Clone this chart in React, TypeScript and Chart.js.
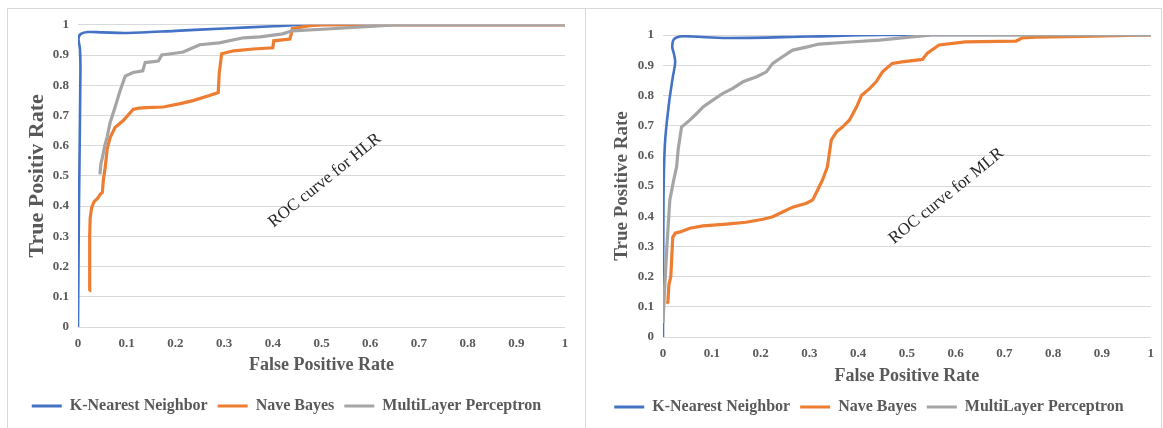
import React, { useEffect, useRef } from 'react';
import { Chart, registerables } from 'chart.js';

Chart.register(...registerables);

// ---------- data ----------
const axisTickLabels = ['0', '0.1', '0.2', '0.3', '0.4', '0.5', '0.6', '0.7', '0.8', '0.9', '1'];
const seriesNames = ['K-Nearest Neighbor', 'Nave Bayes', 'MultiLayer Perceptron'];
const seriesColors = ['#4472C4', '#ED7D31', '#A5A5A5'];
const xAxisTitle = 'False Positive Rate';
const yAxisTitles = ['True Positiv Rate', 'True Positive Rate'];
const noteTexts = ['ROC curve for HLR', 'ROC curve for MLR'];

// HLR (left chart)
const hlrKnnX = [0, 0.002, 0.005, 0.004, 0.001, 0.006, 0.02, 0.05, 0.1, 0.2, 0.3, 0.4, 0.48, 1];
const hlrKnnY = [0, 0.4, 0.85, 0.92, 0.955, 0.97, 0.976, 0.975, 0.973, 0.98, 0.988, 0.995, 1, 1];

const hlrNbX = [0.023, 0.024, 0.025, 0.028, 0.033, 0.04, 0.046, 0.05, 0.052, 0.056, 0.06, 0.066, 0.076, 0.093, 0.113, 0.125, 0.14, 0.175, 0.21, 0.236, 0.27, 0.288, 0.29, 0.295, 0.32, 0.36, 0.4, 0.402, 0.435, 0.438, 0.44, 0.476, 0.5, 1];
const hlrNbY = [0.12, 0.3, 0.36, 0.395, 0.415, 0.425, 0.44, 0.445, 0.485, 0.53, 0.59, 0.627, 0.66, 0.683, 0.72, 0.724, 0.726, 0.728, 0.739, 0.749, 0.766, 0.776, 0.84, 0.904, 0.914, 0.92, 0.924, 0.947, 0.953, 0.97, 0.987, 0.997, 1, 1];

const hlrMlpX = [0.045, 0.047, 0.05, 0.055, 0.06, 0.066, 0.076, 0.086, 0.097, 0.113, 0.133, 0.136, 0.138, 0.165, 0.172, 0.195, 0.216, 0.23, 0.25, 0.29, 0.34, 0.374, 0.42, 0.44, 0.52, 0.6, 0.647, 1];
const hlrMlpY = [0.505, 0.54, 0.56, 0.6, 0.63, 0.677, 0.726, 0.78, 0.83, 0.842, 0.848, 0.865, 0.875, 0.88, 0.9, 0.905, 0.91, 0.92, 0.934, 0.94, 0.957, 0.96, 0.97, 0.98, 0.987, 0.995, 1, 1];

// MLR (right chart)
const mlrKnnX = [0, 0.001, 0.004, 0.012, 0.02, 0.025, 0.022, 0.019, 0.022, 0.035, 0.06, 0.13, 0.3, 0.45, 1];
const mlrKnnY = [0, 0.45, 0.64, 0.77, 0.86, 0.91, 0.94, 0.96, 0.985, 0.995, 0.995, 0.99, 0.995, 1, 1];

const mlrNbX = [0.008, 0.01, 0.012, 0.016, 0.02, 0.025, 0.035, 0.055, 0.082, 0.13, 0.17, 0.205, 0.225, 0.245, 0.266, 0.294, 0.307, 0.317, 0.327, 0.337, 0.345, 0.356, 0.368, 0.382, 0.397, 0.407, 0.424, 0.437, 0.45, 0.47, 0.49, 0.532, 0.542, 0.566, 0.62, 0.724, 0.736, 0.764, 0.86, 1];
const mlrNbY = [0.11, 0.116, 0.172, 0.2, 0.33, 0.344, 0.348, 0.36, 0.368, 0.374, 0.38, 0.39, 0.398, 0.414, 0.43, 0.443, 0.454, 0.487, 0.52, 0.563, 0.652, 0.68, 0.695, 0.718, 0.762, 0.8, 0.823, 0.845, 0.878, 0.906, 0.911, 0.919, 0.94, 0.967, 0.977, 0.98, 0.99, 0.993, 0.995, 1];

const mlrMlpX = [0, 0.003, 0.008, 0.014, 0.018, 0.022, 0.028, 0.031, 0.038, 0.055, 0.069, 0.082, 0.103, 0.123, 0.143, 0.164, 0.192, 0.212, 0.225, 0.245, 0.266, 0.294, 0.32, 0.376, 0.444, 0.5, 0.552, 1];
const mlrMlpY = [0.046, 0.15, 0.3, 0.454, 0.487, 0.52, 0.564, 0.62, 0.695, 0.718, 0.74, 0.762, 0.785, 0.807, 0.823, 0.845, 0.862, 0.878, 0.906, 0.928, 0.95, 0.96, 0.97, 0.976, 0.983, 0.992, 1, 1];

// ---------- helpers ----------
const FONT = '"Liberation Serif", "Times New Roman", serif';
const TEXT = '#595959';
Chart.defaults.font.family = FONT;

const toPoints = (xs: number[], ys: number[]) => xs.map((x, i) => ({ x, y: ys[i] }));

type Layout = {
  left: number; top: number; width: number; height: number;
  padTop: number; padRight: number; padBottom: number;
  yWidth: number; xHeight: number;
  yTitleSize: number; yTitlePad: number; xTitlePad: number;
  noteX: number; noteY: number;
};

function RocChart(props: { series: { x: number[]; y: number[] }[]; yTitle: string; note: string; layout: Layout }) {
  const ref = useRef<HTMLCanvasElement | null>(null);
  const { series, yTitle, note, layout } = props;

  useEffect(() => {
    if (!ref.current) return;
    const notePlugin = {
      id: 'note',
      afterDatasetsDraw(chart: any) {
        const { ctx, scales } = chart;
        const px = scales.x.getPixelForValue(layout.noteX);
        const py = scales.y.getPixelForValue(layout.noteY);
        ctx.save();
        ctx.translate(px, py);
        ctx.rotate((-39 * Math.PI) / 180);
        ctx.font = `17px ${FONT}`;
        ctx.fillStyle = '#262626';
        ctx.textAlign = 'center';
        ctx.textBaseline = 'middle';
        ctx.fillText(note, 0, 0);
        ctx.restore();
      },
    };
    const chart = new Chart(ref.current, {
      type: 'line',
      data: {
        datasets: series.map((s, i) => ({
          label: seriesNames[i],
          data: toPoints(s.x, s.y),
          borderColor: seriesColors[i],
          backgroundColor: seriesColors[i],
          borderWidth: i === 0 ? 2.6 : 3.2,
          pointRadius: 0,
          fill: false,
          tension: i === 0 ? 0.35 : 0,
          order: 3 - i,
        })),
      },
      options: {
        animation: false,
        responsive: false,
        layout: { padding: { top: layout.padTop, right: layout.padRight, bottom: layout.padBottom, left: 0 } },
        plugins: {
          tooltip: { enabled: false },
          legend: {
            position: 'bottom',
            labels: {
              boxWidth: 30,
              boxHeight: 3,
              padding: 10,
              color: TEXT,
              font: { size: 16, weight: 'bold', family: FONT },
              sort: (a: any, b: any) => a.datasetIndex - b.datasetIndex,
              generateLabels: (c: any) =>
                Chart.defaults.plugins.legend.labels.generateLabels(c).map((l: any) => ({
                  ...l,
                  lineWidth: 0,
                  fillStyle: seriesColors[l.datasetIndex],
                })),
            },
          },
        },
        scales: {
          x: {
            type: 'linear',
            min: 0,
            max: 1,
            afterFit: (scale: any) => { scale.height = layout.xHeight; },
            grid: { display: false, drawTicks: false },
            border: { display: false },
            ticks: {
              stepSize: 0.1,
              padding: 9,
              color: TEXT,
              font: { size: 13, weight: 'bold', family: FONT },
              maxRotation: 0,
              callback: (_v: any, i: number) => axisTickLabels[i],
            },
            title: {
              display: true,
              text: xAxisTitle,
              color: TEXT,
              font: { size: 18, weight: 'bold', family: FONT },
              padding: { top: 0, bottom: layout.xTitlePad },
            },
          },
          y: {
            type: 'linear',
            min: 0,
            max: 1,
            afterFit: (scale: any) => { scale.width = layout.yWidth; },
            grid: { color: '#D9D9D9', lineWidth: 1, drawTicks: false },
            border: { display: false },
            ticks: {
              stepSize: 0.1,
              padding: 9,
              color: TEXT,
              font: { size: 13, weight: 'bold', family: FONT },
              callback: (_v: any, i: number) => axisTickLabels[i],
            },
            title: {
              display: true,
              text: yTitle,
              color: TEXT,
              font: { size: layout.yTitleSize, weight: 'bold', family: FONT },
              padding: { top: layout.yTitlePad, bottom: 0 },
            },
          },
        },
      },
      plugins: [notePlugin],
    } as any);
    return () => chart.destroy();
  }, []);

  return (
    <canvas
      ref={ref}
      width={layout.width}
      height={layout.height}
      style={{ position: 'absolute', left: layout.left, top: layout.top, width: layout.width, height: layout.height }}
    />
  );
}

const leftLayout: Layout = {
  left: 8, top: 8, width: 577, height: 420,
  padTop: 16, padRight: 20, padBottom: 4,
  yWidth: 70, xHeight: 61,
  yTitleSize: 22, yTitlePad: 16, xTitlePad: 12,
  noteX: 0.507, noteY: 0.485,
};

const rightLayout: Layout = {
  left: 586, top: 8, width: 577, height: 420,
  padTop: 27, padRight: 11, padBottom: 3,
  yWidth: 77, xHeight: 52,
  yTitleSize: 19, yTitlePad: 25, xTitlePad: 2,
  noteX: 0.581, noteY: 0.467,
};

export default function App() {
  return (
    <div style={{ position: 'absolute', left: 0, top: 0, width: 1163, height: 428, overflow: 'hidden', background: '#fff' }}>
      <div style={{ position: 'absolute', left: 7, top: 8, width: 577, height: 440, border: '1px solid #D9D9D9' }} />
      <div style={{ position: 'absolute', left: 585, top: 8, width: 575, height: 440, border: '1px solid #D9D9D9' }} />
      <RocChart
        series={[{ x: hlrKnnX, y: hlrKnnY }, { x: hlrNbX, y: hlrNbY }, { x: hlrMlpX, y: hlrMlpY }]}
        yTitle={yAxisTitles[0]}
        note={noteTexts[0]}
        layout={leftLayout}
      />
      <RocChart
        series={[{ x: mlrKnnX, y: mlrKnnY }, { x: mlrNbX, y: mlrNbY }, { x: mlrMlpX, y: mlrMlpY }]}
        yTitle={yAxisTitles[1]}
        note={noteTexts[1]}
        layout={rightLayout}
      />
    </div>
  );
}
